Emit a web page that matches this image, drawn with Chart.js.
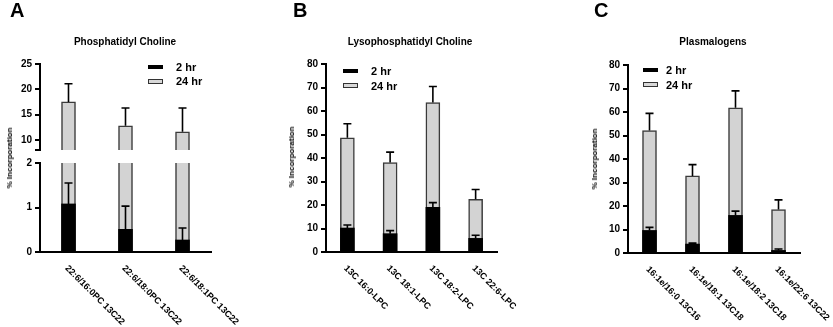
<!DOCTYPE html>
<html><head><meta charset="utf-8">
<script src="https://cdn.jsdelivr.net/npm/chart.js@4/dist/chart.umd.min.js"></script>
<style>
html,body{margin:0;padding:0;background:#fff;}
#wrap{position:relative;width:833px;height:327px;overflow:hidden;font-family:Arial,"Liberation Sans",sans-serif;font-weight:bold;color:#000;}
canvas{position:absolute;left:0;top:0;}
.t{position:absolute;white-space:nowrap;line-height:1;}
.letter{font-size:20px;}
.title{font-size:10px;transform:translate(-50%,-50%);}
.ytitle{font-size:8px;transform:translate(-50%,-50%) rotate(-90deg);}
.leg{font-size:11px;transform:translateY(-50%);}
.box{position:absolute;box-sizing:border-box;}
.b2{background:#000;height:4px;width:15px;}
.b24{background:#d8d8d8;border:1px solid #333;height:5px;width:15px;}
</style></head>
<body><div id="wrap">
<canvas id="cA1" width="833" height="327"></canvas>
<canvas id="cA2" width="833" height="327"></canvas>
<canvas id="cB" width="833" height="327"></canvas>
<canvas id="cC" width="833" height="327"></canvas>

<div class="t letter" style="left:10px;top:0px;">A</div>
<div class="t letter" style="left:293px;top:0px;">B</div>
<div class="t letter" style="left:594px;top:0px;">C</div>

<div class="t title" style="left:125px;top:42px;">Phosphatidyl Choline</div>
<div class="t title" style="left:410px;top:42px;">Lysophosphatidyl Choline</div>
<div class="t title" style="left:713px;top:42px;">Plasmalogens</div>

<div class="t ytitle" style="left:10px;top:158px;">% Incorporation</div>
<div class="t ytitle" style="left:292px;top:157px;">% Incorporation</div>
<div class="t ytitle" style="left:595px;top:159px;">% Incorporation</div>

<div class="box b2" style="left:148px;top:65px;"></div>
<div class="box b24" style="left:148px;top:79px;"></div>
<div class="t leg" style="left:176px;top:67px;">2 hr</div>
<div class="t leg" style="left:176px;top:81px;">24 hr</div>

<div class="box b2" style="left:343px;top:69px;"></div>
<div class="box b24" style="left:343px;top:83px;"></div>
<div class="t leg" style="left:371px;top:71px;">2 hr</div>
<div class="t leg" style="left:371px;top:86px;">24 hr</div>

<div class="box b2" style="left:643px;top:68px;"></div>
<div class="box b24" style="left:643px;top:82px;"></div>
<div class="t leg" style="left:666px;top:70px;">2 hr</div>
<div class="t leg" style="left:666px;top:85px;">24 hr</div>
</div>
<script>
// ---- Data ----
const pcCategories = ['22:6/16:0PC 13C22', '22:6/18:0PC 13C22', '22:6/18:1PC 13C22'];
const pc2hr = [1.08, 0.51, 0.27];
const pc2hrErr = [0.47, 0.52, 0.27];
const pc24hr = [17.5, 12.8, 11.6];
const pc24hrErr = [3.6, 3.5, 4.7];

const lpcCategories = ['13C 16:0-LPC', '13C 18:1-LPC', '13C 18:2-LPC', '13C 22:6-LPC'];
const lpc2hr = [10.2, 7.8, 19.0, 5.8];
const lpc2hrErr = [1.3, 1.3, 2.0, 1.3];
const lpc24hr = [48.6, 38.1, 63.6, 22.4];
const lpc24hrErr = [6.0, 4.4, 6.8, 4.2];

const plsCategories = ['16:1e/16:0 13C16', '16:1e/18:1 13C18', '16:1e/18:2 13C18', '16:1e/22:6 13C22'];
const pls2hr = [9.6, 3.8, 16.0, 1.1];
const pls2hrErr = [1.3, 0.4, 1.8, 0.6];
const pls24hr = [52.1, 32.8, 61.8, 18.5];
const pls24hrErr = [7.3, 4.8, 7.2, 4.1];

const pcTopTicks = [10, 15, 20, 25];
const pcTopBreak = 8;
const pcBottomTicks = [0, 1, 2];
const incTicks = [0, 10, 20, 30, 40, 50, 60, 70, 80];

// ---- Plugins ----
const FONT = 'Arial, "Liberation Sans", sans-serif';
const errorBarPlugin = {
  id: 'errbars',
  afterDatasetsDraw(chart) {
    const ctx = chart.ctx, ys = chart.scales.y, a = chart.chartArea;
    ctx.save();
    ctx.beginPath();
    ctx.rect(a.left, a.top - 1, a.right - a.left, a.bottom - a.top + 1);
    ctx.clip();
    ctx.strokeStyle = '#000';
    ctx.lineWidth = 1.6;
    chart.data.datasets.forEach((ds, i) => {
      const meta = chart.getDatasetMeta(i);
      meta.data.forEach((bar, j) => {
        const v = ds.data[j], e = ds.errors[j];
        const yBar = ys.getPixelForValue(v);
        const yTop = ys.getPixelForValue(v + e);
        const x = bar.x;
        ctx.beginPath();
        ctx.moveTo(x, yBar);
        ctx.lineTo(x, yTop);
        ctx.moveTo(x - 4, yTop);
        ctx.lineTo(x + 4, yTop);
        ctx.stroke();
      });
    });
    ctx.restore();
  }
};
const xLabelPlugin = {
  id: 'xlab',
  afterDraw(chart, args, opts) {
    if (!opts || !opts.show) return;
    const ctx = chart.ctx, xs = chart.scales.x, y0 = chart.chartArea.bottom;
    ctx.save();
    ctx.font = 'bold 9px ' + FONT;
    ctx.fillStyle = '#000';
    ctx.textAlign = 'left';
    ctx.textBaseline = 'middle';
    chart.data.labels.forEach((lab, i) => {
      const x = xs.getPixelForValue(i);
      ctx.save();
      ctx.translate(x - 2, y0 + 15);
      ctx.rotate(Math.PI / 4);
      ctx.fillText(lab, 0, 0);
      ctx.restore();
    });
    ctx.restore();
  }
};

function makeChart(id, o) {
  const YW = 40;
  return new Chart(document.getElementById(id), {
    type: 'bar',
    data: {
      labels: o.categories,
      datasets: [
        { label: '2 hr', data: o.s2, errors: o.e2, backgroundColor: '#000', borderColor: '#000', borderWidth: 0, barThickness: 14, grouped: false },
        { label: '24 hr', data: o.s24, errors: o.e24, backgroundColor: '#d3d3d3', borderColor: '#3a3a3a', borderWidth: 1.5, barThickness: 14, grouped: false }
      ]
    },
    options: {
      responsive: false, animation: false, devicePixelRatio: 1,
      layout: { autoPadding: false, padding: { left: o.area.left - YW, top: o.area.top, right: 833 - o.area.right, bottom: 327 - o.area.bottom } },
      plugins: { legend: { display: false }, tooltip: { enabled: false }, title: { display: false }, xlab: { show: o.showLabels } },
      scales: {
        x: {
          display: true, offset: true,
          grid: { display: false },
          ticks: { display: false },
          border: { display: o.showX, color: '#000', width: 2 },
          afterFit: s => { s.height = 0; }
        },
        y: {
          min: o.yMin, max: o.yMax,
          grid: { display: true, drawOnChartArea: false, drawTicks: true, tickLength: 5, color: '#000', lineWidth: 2 },
          border: { color: '#000', width: 2 },
          ticks: {
            color: '#000', padding: 3, autoSkip: false,
            font: { family: FONT, size: 10, weight: 'bold' },
            callback: v => (o.blank && o.blank.includes(v)) ? '' : String(v)
          },
          afterBuildTicks: s => { s.ticks = o.tickVals.map(v => ({ value: v })); },
          afterFit: s => { s.width = YW; }
        }
      }
    },
    plugins: [errorBarPlugin, xLabelPlugin]
  });
}

makeChart('cA1', { categories: pcCategories, s2: pc2hr, e2: pc2hrErr, s24: pc24hr, e24: pc24hrErr,
  yMin: pcTopBreak, yMax: 25, tickVals: [pcTopBreak].concat(pcTopTicks), blank: [pcTopBreak],
  area: { left: 40, top: 64, right: 211, bottom: 150 }, showX: false, showLabels: false });
makeChart('cA2', { categories: pcCategories, s2: pc2hr, e2: pc2hrErr, s24: pc24hr, e24: pc24hrErr,
  yMin: 0, yMax: 2, tickVals: pcBottomTicks,
  area: { left: 40, top: 163, right: 211, bottom: 252 }, showX: true, showLabels: true });
makeChart('cB', { categories: lpcCategories, s2: lpc2hr, e2: lpc2hrErr, s24: lpc24hr, e24: lpc24hrErr,
  yMin: 0, yMax: 80, tickVals: incTicks,
  area: { left: 326, top: 64, right: 497, bottom: 252 }, showX: true, showLabels: true });
makeChart('cC', { categories: plsCategories, s2: pls2hr, e2: pls2hrErr, s24: pls24hr, e24: pls24hrErr,
  yMin: 0, yMax: 80, tickVals: incTicks,
  area: { left: 628, top: 65, right: 800, bottom: 253 }, showX: true, showLabels: true });
</script>
</body></html>
